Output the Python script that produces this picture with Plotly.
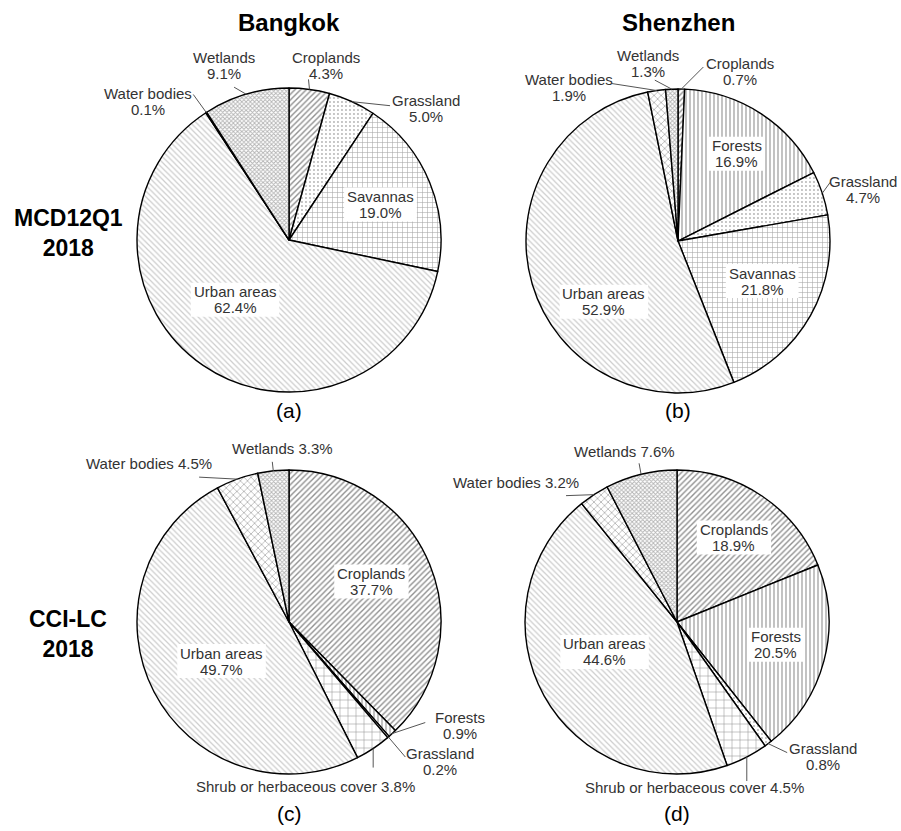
import math
import plotly.graph_objects as go

# ---------------- data ----------------
cats_a = ["Croplands", "Grassland", "Savannas", "Urban areas", "Water bodies", "Wetlands"]
vals_a = [4.3, 5.0, 19.0, 62.4, 0.1, 9.1]

cats_b = ["Croplands", "Forests", "Grassland", "Savannas", "Urban areas", "Water bodies", "Wetlands"]
vals_b = [0.7, 16.9, 4.7, 21.8, 52.9, 1.9, 1.3]

cats_c = ["Croplands", "Forests", "Grassland", "Shrub or herbaceous cover", "Urban areas", "Water bodies", "Wetlands"]
vals_c = [37.7, 0.9, 0.2, 3.8, 49.7, 4.5, 3.3]

cats_d = ["Croplands", "Forests", "Grassland", "Shrub or herbaceous cover", "Urban areas", "Water bodies", "Wetlands"]
vals_d = [18.9, 20.5, 0.8, 4.5, 44.6, 3.2, 7.6]

city_titles = ["Bangkok", "Shenzhen"]
row_titles = ["MCD12Q1<br>2018", "CCI-LC<br>2018"]
panel_tags = ["(a)", "(b)", "(c)", "(d)"]

# ---------------- styles ----------------
W, H = 901, 831
FONT = "Liberation Sans, Arial, sans-serif"
LABEL_COLOR = "#333333"
LABEL_SIZE = 15
LINE_GAP = 8          # half distance between the two lines of a label
ROW_TITLE_Y = [233, 634]
TAG_Y = [410, 813]

PATTERNS = {
    "Croplands": dict(shape="/", size=4, solidity=0.35, fg="#222222"),
    "Forests": dict(shape="|", size=4, solidity=0.3, fg="#333333"),
    "Grassland": dict(shape=".", size=4, solidity=0.18, fg="#666666"),
    "Savannas": dict(shape="+", size=5, solidity=0.2, fg="#444444"),
    "Shrub or herbaceous cover": dict(shape="+", size=8, solidity=0.14, fg="#333333"),
    "Urban areas": dict(shape="\\", size=4, solidity=0.3, fg="#9a9a9a"),
    "Water bodies": dict(shape="x", size=5, solidity=0.25, fg="#444444"),
    "Wetlands": dict(shape="x", size=3, solidity=0.5, fg="#666666"),
}

# pie geometry (pixels): centre x, centre y, radius
GEOM = [(289, 240, 152), (678, 241, 152), (289, 622, 152), (677, 622, 152)]

# label placement per panel: category -> style
# inside: ("in", f, dx, dy, twoline)
# outside: ("out", tx, ty, lx, ly, twoline)  offsets relative to the slice edge point
LABEL_STYLE = [
    {
        "Croplands": ("out", 17, -24, -1, -10, True),
        "Grassland": ("out", 74, 7, 38, 4, True),
        "Savannas": ("in", 0.65, 0, 2, True),
        "Urban areas": ("in", 0.5, -11, -3, True),
        "Water bodies": ("out", -58, -11, -13, -18, True),
        "Wetlands": ("out", -22, -29, -12, -7, True),
    },
    {
        "Croplands": ("out", 59, -18, 22, -22, True),
        "Forests": ("in", 0.7, 1, 2, True),
        "Grassland": ("out", 41, -4, 8, -11, True),
        "Savannas": ("in", 0.62, 2, -6, True),
        "Urban areas": ("in", 0.55, 6, 37, True),
        "Water bodies": ("out", -88, -3, -45, -7, True),
        "Wetlands": ("out", -24, -26, -17, -9, True),
    },
    {
        "Croplands": ("in", 0.6, -2, -6, True),
        "Forests": ("out", 68, -8, 33, -11, True),
        "Grassland": ("out", 52, 24, 17, 20, True),
        "Shrub or herbaceous cover": ("out", -68, 38, 0, 19, False),
        "Urban areas": ("in", 0.5, 0, 4, True),
        "Water bodies": ("out", -88, -16, -38, -2, False),
        "Wetlands": ("out", 9, -22, -1, -9, False),
    },
    {
        "Croplands": ("in", 0.67, 0, 0, True),
        "Forests": ("in", 0.66, 2, -3, True),
        "Grassland": ("out", 55, 13, 19, 9, True),
        "Shrub or herbaceous cover": ("out", -52, 30, 0, 24, False),
        "Urban areas": ("in", 0.5, -6, -7, True),
        "Water bodies": ("out", -78, -12, -28, 1, False),
        "Wetlands": ("out", -17, -23, -2, -11, False),
    },
]

# approximate Arial/Liberation Sans advance widths (per 1000 em)
CHAR_W = {
    "a": 556, "b": 556, "c": 500, "d": 556, "e": 556, "f": 278, "g": 556, "h": 556,
    "i": 222, "l": 222, "n": 556, "o": 556, "p": 556, "r": 333, "s": 500, "t": 278,
    "u": 556, "v": 500, "y": 500, " ": 278, ".": 278, "%": 889, "C": 722, "F": 611,
    "G": 778, "S": 667, "U": 722, "W": 944,
}


def text_width(s, size):
    return sum(CHAR_W.get(ch, 556) for ch in s) * size / 1000


def pxx(x):
    return x / W


def pyy(y):
    return 1 - y / H


def text_ann(X, Y, text, size, color, **kw):
    d = dict(x=pxx(X), y=pyy(Y), xref="paper", yref="paper", text=text,
             showarrow=False, xanchor="center", yanchor="middle",
             font=dict(family=FONT, size=size, color=color))
    d.update(kw)
    return d


panels = [(cats_a, vals_a), (cats_b, vals_b), (cats_c, vals_c), (cats_d, vals_d)]

fig = go.Figure()
annotations = []
shapes = []


def add_label(X, Y, lines):
    if len(lines) == 2:
        annotations.append(text_ann(X, Y - LINE_GAP, lines[0], LABEL_SIZE, LABEL_COLOR))
        annotations.append(text_ann(X, Y + LINE_GAP, lines[1], LABEL_SIZE, LABEL_COLOR))
    else:
        annotations.append(text_ann(X, Y, lines[0], LABEL_SIZE, LABEL_COLOR))


for i, (cats, vals) in enumerate(panels):
    cx, cy, r = GEOM[i]
    pats = [PATTERNS[c] for c in cats]
    fig.add_trace(go.Pie(
        labels=cats,
        values=vals,
        sort=False,
        direction="clockwise",
        rotation=0,
        textinfo="none",
        hoverinfo="label+percent",
        showlegend=False,
        domain=dict(x=[pxx(cx - r), pxx(cx + r)], y=[pyy(cy + r), pyy(cy - r)]),
        marker=dict(
            colors=["white"] * len(cats),
            line=dict(color="black", width=1.4),
            pattern=dict(
                shape=[p["shape"] for p in pats],
                size=[p["size"] for p in pats],
                solidity=[p["solidity"] for p in pats],
                fgcolor=[p["fg"] for p in pats],
                bgcolor=["white"] * len(cats),
                fillmode="overlay",
            ),
        ),
    ))

    total = sum(vals)
    cum = 0.0
    for c, v in zip(cats, vals):
        theta = 2 * math.pi * (cum + v / 2) / total
        cum += v
        style = LABEL_STYLE[i][c]
        pct = f"{v:.1f}%"
        lines = [c, pct] if style[-1] else [f"{c} {pct}"]
        if style[0] == "in":
            _, f, dx, dy, _ = style
            X = cx + f * r * math.sin(theta) + dx
            Y = cy - f * r * math.cos(theta) + dy
            half_w = max(text_width(s, LABEL_SIZE) for s in lines) / 2 + 3
            half_h = LINE_GAP + 9
            shapes.append(dict(
                type="rect", xref="paper", yref="paper", layer="above",
                x0=pxx(X - half_w), x1=pxx(X + half_w),
                y0=pyy(Y + half_h), y1=pyy(Y - half_h),
                fillcolor="white", line=dict(width=0),
            ))
            add_label(X, Y, lines)
        else:
            _, tx, ty, lx, ly, _ = style
            X = cx + r * math.sin(theta)
            Y = cy - r * math.cos(theta)
            add_label(X + tx, Y + ty, lines)
            shapes.append(dict(
                type="line", xref="paper", yref="paper",
                x0=pxx(X), y0=pyy(Y), x1=pxx(X + lx), y1=pyy(Y + ly),
                line=dict(color="#555555", width=1),
            ))

# column titles
for j, t in enumerate(city_titles):
    annotations.append(text_ann(GEOM[j][0], 23, f"<b>{t}</b>", 24, "black"))

# row titles
for k, t in enumerate(row_titles):
    annotations.append(text_ann(68, ROW_TITLE_Y[k], f"<b>{t}</b>", 23, "black"))

# panel tags
for i, t in enumerate(panel_tags):
    annotations.append(text_ann(GEOM[i][0], TAG_Y[i // 2], t, 21, "black"))

fig.update_layout(
    width=W, height=H,
    margin=dict(l=0, r=0, t=0, b=0),
    paper_bgcolor="white",
    plot_bgcolor="white",
    annotations=annotations,
    shapes=shapes,
)

fig.write_html("out.html")
